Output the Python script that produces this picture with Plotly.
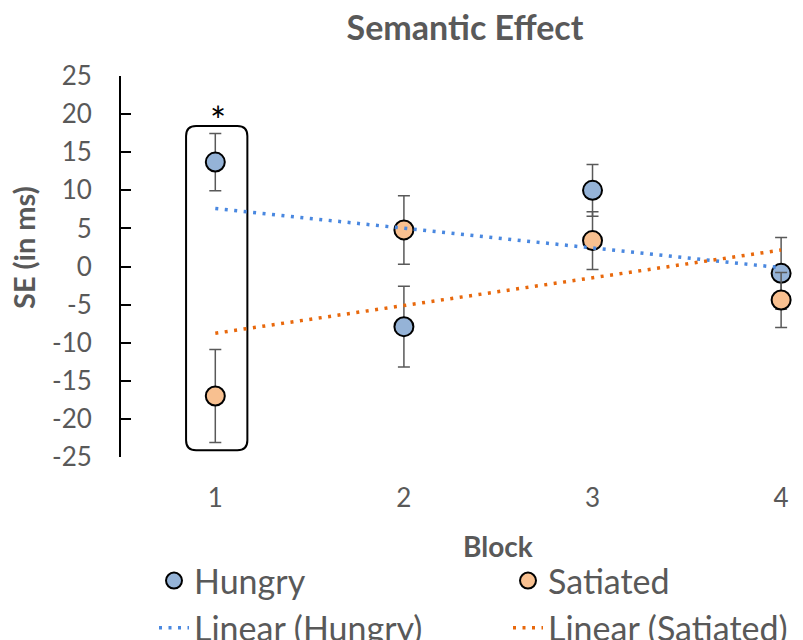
import numpy as np
import plotly.graph_objects as go

# ---- data ----
blocks = [1, 2, 3, 4]
hungry = [13.7, -7.9, 10.0, -0.9]
hungry_err = [3.75, 5.3, 3.4, 4.7]
satiated = [-17.0, 4.8, 3.4, -4.4]
satiated_err = [6.1, 4.5, 3.8, 3.6]
y_tickvals = [25, 20, 15, 10, 5, 0, -5, -10, -15, -20, -25]
y_ticktext = ["25", "20", "15", "10", "5", "0", "-5", "-10", "-15", "-20", "-25"]
x_ticktext = ["1", "2", "3", "4"]
highlight_block = 1

FONT = "Lato"
GRAY = "#595959"
OFF = 8  # page body margin offset
W, H = 803 - OFF, 640 - OFF
# plot area in screen px: left 121, top 75.7, bottom 457.3
ML = 121 - OFF
MT = 75.7 - OFF
MB = H - (457.3 - OFF)
MR = 0

fig = go.Figure()

def err(vals):
    return dict(type="data", array=vals, visible=True, color=GRAY, thickness=1.5, width=6)

fig.add_trace(go.Scatter(
    x=blocks, y=hungry, mode="markers", name="Hungry", legend="legend",
    marker=dict(size=19, color="#95B3D7", line=dict(color="black", width=2)),
    error_y=err(hungry_err)))
fig.add_trace(go.Scatter(
    x=blocks, y=satiated, mode="markers", name="Satiated", legend="legend2",
    marker=dict(size=19, color="#F8C090", line=dict(color="black", width=2)),
    error_y=err(satiated_err)))

# linear trendlines (least squares fit)
bx = np.array(blocks, dtype=float)
ph = np.polyfit(bx, hungry, 1)
ps = np.polyfit(bx, satiated, 1)
fig.add_trace(go.Scatter(
    x=blocks, y=np.polyval(ph, bx), mode="lines", name="Linear (Hungry)", legend="legend",
    line=dict(color="#4A88E0", width=3.5, dash="3px,6.5px")))
fig.add_trace(go.Scatter(
    x=blocks, y=np.polyval(ps, bx), mode="lines", name="Linear (Satiated)", legend="legend2",
    line=dict(color="#E8680C", width=3.5, dash="3px,6.5px")))

# highlight box around block 1
i = blocks.index(highlight_block)
pad_y, half_w = 1.0, 0.155
x0, x1 = highlight_block - half_w, highlight_block + half_w + 0.015
y1 = hungry[i] + hungry_err[i] + pad_y
y0 = satiated[i] - satiated_err[i] - pad_y
rx, ry = 0.053, 1.31
path = (f"M {x0+rx},{y1} L {x1-rx},{y1} Q {x1},{y1} {x1},{y1-ry} "
        f"L {x1},{y0+ry} Q {x1},{y0} {x1-rx},{y0} L {x0+rx},{y0} "
        f"Q {x0},{y0} {x0},{y0+ry} L {x0},{y1-ry} Q {x0},{y1} {x0+rx},{y1} Z")
fig.add_shape(type="path", path=path, xref="x", yref="y",
              line=dict(color="black", width=2), fillcolor="rgba(0,0,0,0)", layer="below")

fig.add_annotation(x=highlight_block + 0.015, y=19.2, xref="x", yref="y", text="*",
                   showarrow=False, xanchor="center", yanchor="middle",
                   font=dict(family=FONT, size=38, color="black"))

pw = W - ML - MR
ph_ = H - MT - MB
def px2paper_x(px):
    return (px - OFF - ML) / pw
def px2paper_y(py):
    return (H - MB - (py - OFF)) / ph_

fig.add_annotation(x=px2paper_x(498), y=px2paper_y(546), xref="paper", yref="paper",
                   text="<b>Block</b>", showarrow=False, xanchor="center", yanchor="middle",
                   font=dict(family=FONT, size=28, color=GRAY))
fig.add_annotation(x=px2paper_x(23), y=px2paper_y(247), xref="paper", yref="paper",
                   text="<b>SE (in ms)</b>", textangle=-90, showarrow=False,
                   xanchor="center", yanchor="middle",
                   font=dict(family=FONT, size=29, color=GRAY))

legend_common = dict(orientation="v", xref="container", yref="container",
                     xanchor="left", yanchor="top", bgcolor="rgba(0,0,0,0)",
                     font=dict(family=FONT, size=34, color=GRAY),
                     itemsizing="trace", tracegroupgap=0)
leg_top = 1 - (552 - OFF) / H

fig.update_layout(
    width=W, height=H,
    margin=dict(l=ML, r=MR, t=MT, b=MB, autoexpand=False),
    paper_bgcolor="white", plot_bgcolor="white",
    font=dict(family=FONT, color=GRAY),
    title=dict(text="<b>Semantic Effect</b>", xref="container", yref="container",
               x=(465 - OFF) / W, y=1 - (28 - OFF) / H, xanchor="center", yanchor="middle",
               font=dict(family=FONT, size=34, color=GRAY)),
    showlegend=True,
    legend=dict(x=(154 - OFF) / W, y=leg_top, **legend_common),
    legend2=dict(x=(508 - OFF) / W, y=leg_top, **legend_common),
    xaxis=dict(range=[0.5, 4.116], tickvals=blocks, ticktext=x_ticktext,
               showline=False, showgrid=False, zeroline=False, ticks="",
               ticklabelstandoff=23,
               tickfont=dict(family=FONT, size=26, color=GRAY)),
    yaxis=dict(range=[-25, 25], tickvals=y_tickvals, ticktext=y_ticktext,
               showline=True, linecolor="black", linewidth=2,
               ticks="inside", ticklen=10, tickwidth=2, tickcolor="black",
               showgrid=False, zeroline=False, ticklabelstandoff=22,
               tickfont=dict(family=FONT, size=26, color=GRAY)),
)

fig.write_html("out.html")
